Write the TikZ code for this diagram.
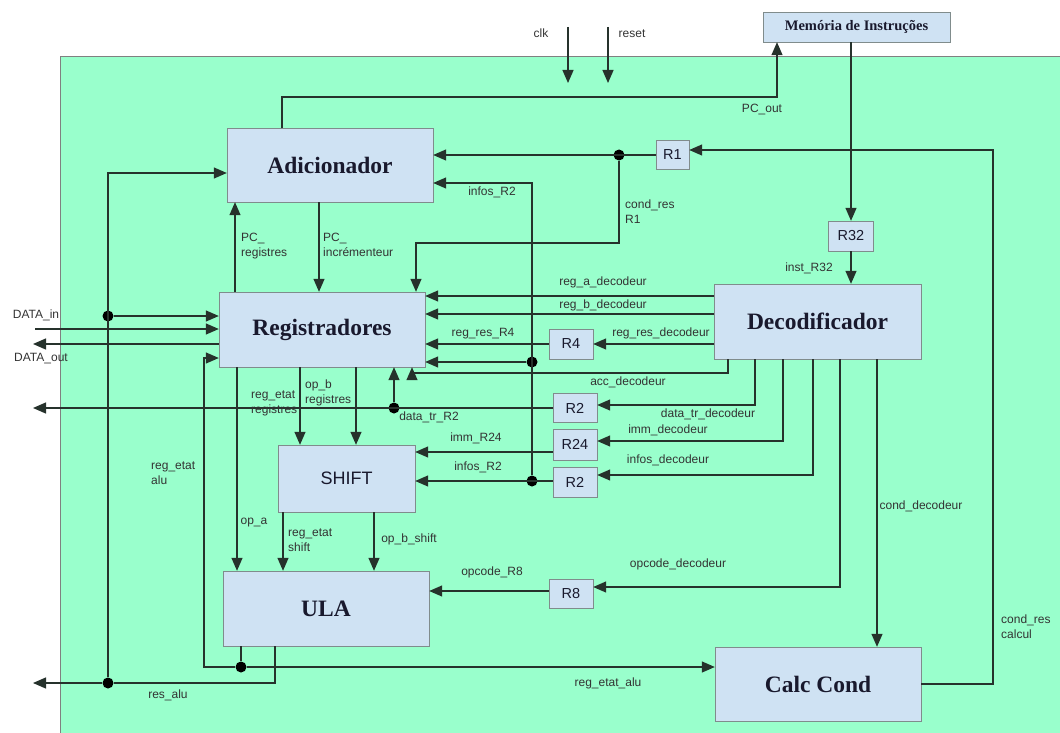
\documentclass[tikz,border=0pt]{standalone}
\usepackage{fontspec}
\setmainfont{Liberation Serif}
\setsansfont{Liberation Sans}
\usetikzlibrary{arrows.meta,calc}
\definecolor{mint}{RGB}{153,255,204}
\definecolor{boxblue}{RGB}{207,226,243}
\definecolor{boxline}{RGB}{128,140,140}
\definecolor{wirecol}{RGB}{38,50,44}
\definecolor{titlecol}{RGB}{25,25,45}

\begin{document}
\begin{tikzpicture}[x=1pt, y=-1pt, >={Triangle[length=13pt,width=11pt]},
  wire/.style={draw=wirecol, line width=1.3pt},
  arr/.style={wire, ->},
  blk/.style={rectangle, draw=boxline, fill=boxblue, inner sep=0pt,
              text=titlecol, font=\bfseries\fontsize{23.5}{26}\selectfont},
  latch/.style={rectangle, draw=boxline, fill=boxblue, inner sep=0pt,
                text=titlecol, font=\sffamily\fontsize{14.5}{16}\selectfont},
  dot/.style={circle, fill=black, inner sep=0pt, minimum size=11pt},
  lbl/.style={inner sep=0pt, text=black!80, align=left,
              font=\sffamily\fontsize{12}{14.5}\selectfont}]

  \useasboundingbox (0,0) rectangle (1060,733);

  % Background
  \fill[mint] (60,57) rectangle (1060,733);
  \draw[gray, line width=1pt] (1060,57) -- (60,57) -- (60,733);

  % Blocks
  \node[blk, minimum width=187pt, minimum height=30pt,
        font=\bfseries\fontsize{14.5}{16}\selectfont] (MEM) at (856.5,27) {Memória de Instruções};
  \node[blk, minimum width=206pt, minimum height=74pt] (ADD) at (330,165) {Adicionador};
  \node[blk, minimum width=206pt, minimum height=75pt] (REG) at (322,329.5) {Registradores};
  \node[blk, minimum width=137pt, minimum height=67pt,
        font=\sffamily\fontsize{18}{20}\selectfont] (SH) at (346.5,478.5) {SHIFT};
  \node[blk, minimum width=206pt, minimum height=75pt] (ULA) at (326,608.5) {ULA};
  \node[blk, minimum width=207pt, minimum height=75pt] (DEC) at (817.5,321.5) {Decodificador};
  \node[blk, minimum width=206pt, minimum height=74pt] (CC) at (818,684) {Calc Cond};

  % Registers
  \node[latch, minimum width=33pt, minimum height=29pt] (R1) at (672.5,155) {R1};
  \node[latch, minimum width=45pt, minimum height=30pt] (R32) at (851,236) {R32};
  \node[latch, minimum width=44pt, minimum height=30pt] (R4) at (571,344) {R4};
  \node[latch, minimum width=44pt, minimum height=29pt] (R2a) at (575,408) {R2};
  \node[latch, minimum width=44pt, minimum height=31pt] (R24) at (575,444.5) {R24};
  \node[latch, minimum width=44pt, minimum height=30pt] (R2b) at (575,482) {R2};
  \node[latch, minimum width=44pt, minimum height=29pt] (R8) at (571,593.5) {R8};

  % Junctions and free ends
  \node[dot] (dR1) at (619,155) {};
  \node[dot] (dReg) at (532,362) {};
  \node[dot] (dInf) at (532,481) {};
  \node[dot] (dTr) at (394,408) {};
  \node[dot] (dEtat) at (241,667) {};
  \node[dot] (dRes) at (108,683) {};
  \node[dot] (dIn) at (108,316) {};
  \coordinate (clkA) at (568,27);
  \coordinate (clkB) at (568,83);
  \coordinate (rstA) at (608,27);
  \coordinate (rstB) at (608,83);
  \coordinate (dataIn) at (35,329);
  \coordinate (dataOut) at (33,344);
  \coordinate (trOut) at (33,408);
  \coordinate (resOut) at (33,683);

  % Clock, reset, instruction fetch
  \draw[arr] (clkA) -- (clkB);
  \draw[arr] (rstA) -- (rstB);
  \node[lbl] (lclk) at (541,33) {clk};
  \node[lbl] (lrst) at (632,34) {reset};
  \draw[arr] (282,0 |- ADD.north) |- (777,97) -- (777,0 |- MEM.south);
  \node[lbl] (lpc) at (762,110) {PC\_out};
  \draw[arr] (R32.north |- MEM.south) -- (R32.north);
  \draw[arr] (R32.south) -- (R32.south |- DEC.north);
  \node[lbl] (linst) at (809,268) {inst\_R32};

  % Condition loop
  \draw[arr] (CC.east) -| (993,150) -- (R1.east |- 0,150);
  \node[lbl, anchor=north west] (lcalc) at (1001,615) {cond\_res\\calcul};
  \draw[arr] (R1.west) -- (ADD.east |- R1.west);
  \draw[arr] (dR1) |- (416,243) -- (416,0 |- REG.north);
  \node[lbl, anchor=north west] (lcr1) at (625,200) {cond\_res\\R1};

  % infos_R2 bus
  \draw[arr] (dInf) -- (532,183) -- (ADD.east |- 0,183);
  \draw[arr] (dReg) -- (REG.east |- dReg);
  \draw[arr] (R2b.west |- dInf) -- (SH.east |- dInf);
  \node[lbl] (linf1) at (492,192) {infos\_R2};
  \node[lbl] (linf2) at (478,467) {infos\_R2};

  % Decoder outputs
  \draw[arr] (DEC.west |- 0,296) -- (REG.east |- 0,296);
  \node[lbl] (lra) at (603,282) {reg\_a\_decodeur};
  \draw[arr] (DEC.west |- 0,314) -- (REG.east |- 0,314);
  \node[lbl] (lrb) at (603,305) {reg\_b\_decodeur};
  \draw[arr] (DEC.west |- R4.east) -- (R4.east);
  \node[lbl] (lrrd) at (661,333) {reg\_res\_decodeur};
  \draw[arr] (R4.west) -- (REG.east |- R4.west);
  \node[lbl] (lrr4) at (483,334) {reg\_res\_R4};
  \draw[arr] (728,0 |- DEC.south) |- (412,373) -- (412,0 |- REG.south);
  \node[lbl] (lacc) at (628,382) {acc\_decodeur};
  \draw[arr] (755,0 |- DEC.south) |- (R2a.east |- 0,405);
  \node[lbl] (ltrd) at (708,414) {data\_tr\_decodeur};
  \draw[arr] (R2a.west) -- (trOut);
  \draw[arr] (dTr) -- (dTr |- REG.south);
  \node[lbl] (ltr2) at (429,417) {data\_tr\_R2};
  \draw[arr] (783,0 |- DEC.south) |- (R24.east |- 0,441);
  \node[lbl] (limmd) at (668,430) {imm\_decodeur};
  \draw[arr] (R24.west |- 0,452) -- (SH.east |- 0,452);
  \node[lbl] (limm) at (476,438) {imm\_R24};
  \draw[arr] (813,0 |- DEC.south) |- (R2b.east |- 0,475);
  \node[lbl] (linfd) at (668,460) {infos\_decodeur};
  \draw[arr] (840,0 |- DEC.south) |- (R8.east |- 0,587);
  \node[lbl] (lopd) at (678,564) {opcode\_decodeur};
  \draw[arr] (R8.west |- 0,591) -- (ULA.east |- 0,591);
  \node[lbl] (lop8) at (492,572) {opcode\_R8};
  \draw[arr] (877,0 |- DEC.south) -- (877,0 |- CC.north);
  \node[lbl] (lcond) at (921,506) {cond\_decodeur};

  % Adder <-> registers
  \draw[arr] (235,0 |- REG.north) -- (235,0 |- ADD.south);
  \node[lbl, anchor=north west] (lpcr) at (241,233) {PC\_\\registres};
  \draw[arr] (319,0 |- ADD.south) -- (319,0 |- REG.north);
  \node[lbl, anchor=north west] (lpci) at (323,233) {PC\_\\incrémenteur};

  % Registers -> shift -> ULA
  \draw[arr] (300,0 |- REG.south) -- (300,0 |- SH.north);
  \node[lbl, anchor=north west] (lerg) at (251,391) {reg\_etat\\registres};
  \draw[arr] (356,0 |- REG.south) -- (356,0 |- SH.north);
  \node[lbl, anchor=north west] (lopb) at (305,380) {op\_b\\registres};
  \draw[arr] (237,0 |- REG.south) -- (237,0 |- ULA.north);
  \node[lbl] (lopa) at (254,523) {op\_a};
  \draw[arr] (283,0 |- SH.south) -- (283,0 |- ULA.north);
  \node[lbl, anchor=north west] (lesh) at (288,529) {reg\_etat\\shift};
  \draw[arr] (374,0 |- SH.south) -- (374,0 |- ULA.north);
  \node[lbl] (lobs) at (409,539) {op\_b\_shift};

  % ULA outputs
  \draw[wire] (241,0 |- ULA.south) -- (dEtat);
  \draw[arr] (dEtat) -- (CC.west |- dEtat);
  \draw[arr] (dEtat) -| (204,358) -- (REG.west |- 0,358);
  \node[lbl] (leta) at (608,683) {reg\_etat\_alu};
  \node[lbl, anchor=north west] (leal) at (151,462) {reg\_etat\\alu};
  \draw[arr] (275,0 |- ULA.south) |- (dRes) -- (resOut);
  \node[lbl] (lres) at (168,695) {res\_alu};
  \draw[arr] (dRes) -- (108,173) -- (ADD.west |- 0,173);
  \draw[arr] (dIn) -- (REG.west |- dIn);

  % External data
  \draw[arr] (dataIn) -- (REG.west |- dataIn);
  \node[lbl] (ldin) at (36,315) {DATA\_in};
  \draw[arr] (REG.west |- dataOut) -- (dataOut);
  \node[lbl] (ldout) at (41,359) {DATA\_out};
\end{tikzpicture}
\end{document}
